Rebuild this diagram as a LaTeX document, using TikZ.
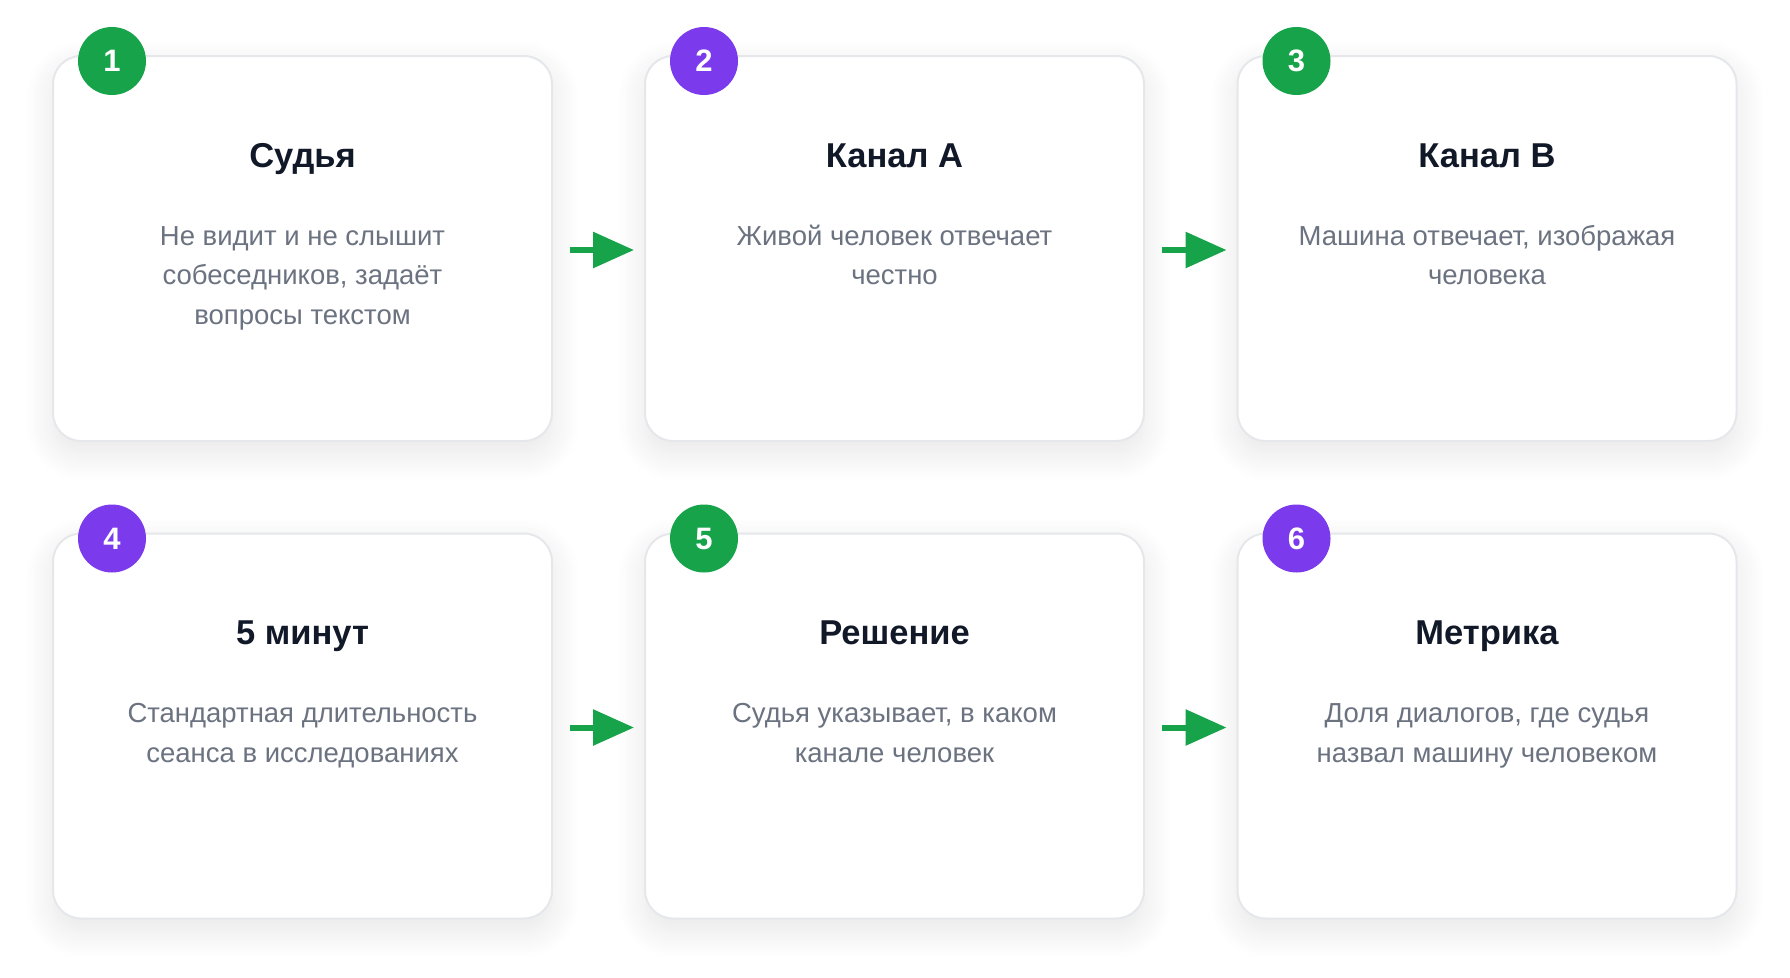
\documentclass[tikz,border=0pt]{standalone}
\usepackage{fontspec}
\setmainfont{Liberation Sans}
\usetikzlibrary{arrows.meta,shadows.blur}
\definecolor{cgreen}{HTML}{16A34A}
\definecolor{cpurple}{HTML}{7C3AED}
\definecolor{ctitle}{HTML}{111827}
\definecolor{cdesc}{HTML}{6B7280}
\definecolor{cborder}{HTML}{E5E7EB}
\tikzset{
  card/.style={draw=cborder, line width=2pt, fill=white, rounded corners=28pt,
    minimum width=499pt, minimum height=385pt, inner sep=0pt,
    blur shadow={shadow xshift=0pt, shadow yshift=-12pt, shadow blur radius=28pt, shadow opacity=10, shadow blur steps=24}},
  badge/.style={circle, minimum size=68pt, inner sep=0pt, text=white,
    font=\fontsize{31}{31}\selectfont\bfseries},
  ttl/.style={anchor=base, inner sep=0pt, text=ctitle, font=\fontsize{34.5}{34.5}\selectfont\bfseries},
  dsc/.style={anchor=base, inner sep=0pt, text=cdesc, font=\fontsize{27.5}{39.5}\selectfont},
  arr/.style={cgreen, line width=6pt, -{Triangle[length=41pt,width=35pt]}}
}
\begin{document}
\begin{tikzpicture}[x=1pt,y=-1pt]
\useasboundingbox (0,0) rectangle (1790,977);
% cards
\node[card] (b1) at (302.5,248.5) {};
\node[card] (b2) at (894.5,248.5) {};
\node[card] (b3) at (1487,248.5) {};
\node[card] (b4) at (302.5,726) {};
\node[card] (b5) at (894.5,726) {};
\node[card] (b6) at (1487,726) {};
% badges
\node[badge, fill=cgreen]  (n1) at ([xshift=60pt,yshift=-6pt]b1.north west) {1};
\node[badge, fill=cpurple] (n2) at ([xshift=60pt,yshift=-6pt]b2.north west) {2};
\node[badge, fill=cgreen]  (n3) at ([xshift=60pt,yshift=-6pt]b3.north west) {3};
\node[badge, fill=cpurple] (n4) at ([xshift=60pt,yshift=-6pt]b4.north west) {4};
\node[badge, fill=cgreen]  (n5) at ([xshift=60pt,yshift=-6pt]b5.north west) {5};
\node[badge, fill=cpurple] (n6) at ([xshift=60pt,yshift=-6pt]b6.north west) {6};
% titles
\node[ttl] (t1) at ([yshift=-112pt]b1.north) {Судья};
\node[ttl] (t2) at ([yshift=-112pt]b2.north) {Канал A};
\node[ttl] (t3) at ([yshift=-112pt]b3.north) {Канал B};
\node[ttl] (t4) at ([yshift=-112pt]b4.north) {5 минут};
\node[ttl] (t5) at ([yshift=-112pt]b5.north) {Решение};
\node[ttl] (t6) at ([yshift=-112pt]b6.north) {Метрика};
% descriptions
\node[dsc] (d1a) at ([yshift=-190pt]b1.north) {Не видит и не слышит};
\node[dsc] (d1b) at ([yshift=-229.5pt]b1.north) {собеседников, задаёт};
\node[dsc] (d1c) at ([yshift=-269pt]b1.north) {вопросы текстом};
\node[dsc] (d2a) at ([yshift=-190pt]b2.north) {Живой человек отвечает};
\node[dsc] (d2b) at ([yshift=-229.5pt]b2.north) {честно};
\node[dsc] (d3a) at ([yshift=-190pt]b3.north) {Машина отвечает, изображая};
\node[dsc] (d3b) at ([yshift=-229.5pt]b3.north) {человека};
\node[dsc] (d4a) at ([yshift=-190pt]b4.north) {Стандартная длительность};
\node[dsc] (d4b) at ([yshift=-229.5pt]b4.north) {сеанса в исследованиях};
\node[dsc] (d5a) at ([yshift=-190pt]b5.north) {Судья указывает, в каком};
\node[dsc] (d5b) at ([yshift=-229.5pt]b5.north) {канале человек};
\node[dsc] (d6a) at ([yshift=-190pt]b6.north) {Доля диалогов, где судья};
\node[dsc] (d6b) at ([yshift=-229.5pt]b6.north) {назвал машину человеком};
% arrows
\draw[arr] ([xshift=17pt,yshift=-1.5pt]b1.east) -- ([xshift=-10pt,yshift=-1.5pt]b2.west);
\draw[arr] ([xshift=17pt,yshift=-1.5pt]b2.east) -- ([xshift=-10pt,yshift=-1.5pt]b3.west);
\draw[arr] ([xshift=17pt,yshift=-1.5pt]b4.east) -- ([xshift=-10pt,yshift=-1.5pt]b5.west);
\draw[arr] ([xshift=17pt,yshift=-1.5pt]b5.east) -- ([xshift=-10pt,yshift=-1.5pt]b6.west);
\end{tikzpicture}
\end{document}
